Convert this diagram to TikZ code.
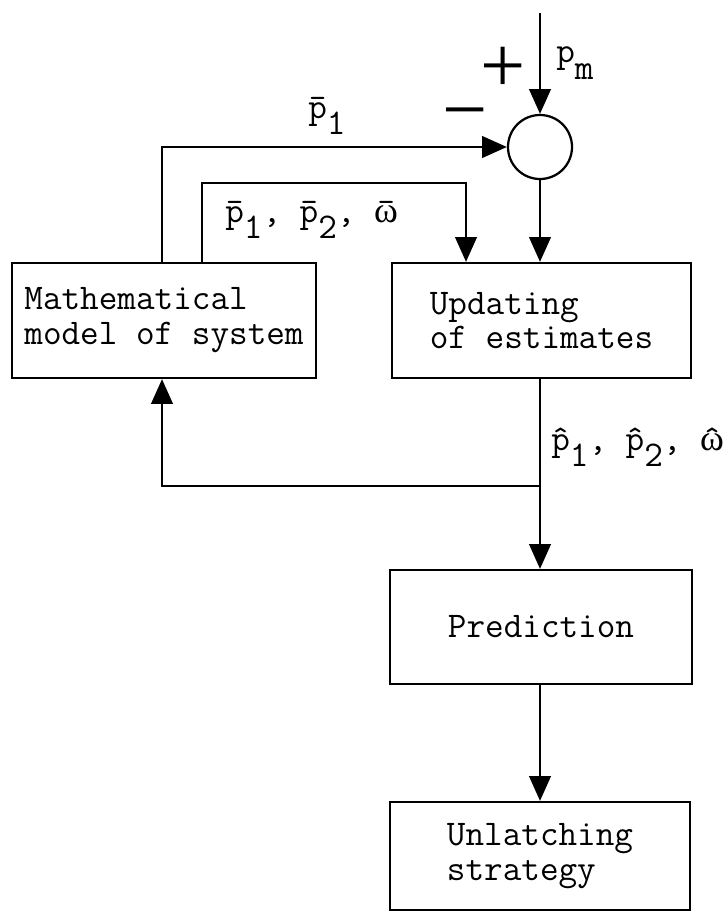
\documentclass[tikz,border=0pt]{standalone}
\usepackage{fontspec}
\newfontfamily\thinfont{Liberation Serif}
\usetikzlibrary{arrows.meta}
\newcommand{\blockfont}{\fontsize{25.7}{24.8}\selectfont\ttfamily}
\newcommand{\signfont}{\fontsize{57}{57}\selectfont\thinfont}
\newcommand{\lowsub}[1]{\raisebox{-0.42cm}{#1}}
\newcommand{\withbar}[1]{\ooalign{#1\cr\hidewidth¯\hidewidth\cr}}
\newcommand{\withhat}[1]{\ooalign{#1\cr\hidewidth ˆ\hidewidth\cr}}
\tikzset{
  block/.style={draw, line width=1.6pt, align=left, font=\blockfont, inner sep=0pt},
  wire/.style={line width=1.6pt},
  flow/.style={wire, -{Triangle[length=6.2mm,width=5.4mm]}},
  tag/.style={anchor=base west, font=\blockfont, inner sep=0pt},
  sign/.style={anchor=base, font=\signfont, inner sep=0pt}
}
\begin{document}
\begin{tikzpicture}[x=0.025cm, y=-0.025cm]
        \useasboundingbox (0,0) rectangle (728,913);
        \node[block, minimum width=7.6cm, minimum height=2.875cm] (model) at (164,320.5) {Mathematical\\model of system};
        \node[block, minimum width=7.475cm, minimum height=2.875cm] (update) at (541.5,320.5) {Updating\\of estimates};
        \node[block, minimum width=7.55cm, minimum height=2.85cm] (pred) at (541,627) {Prediction};
        \node[block, minimum width=7.5cm, minimum height=2.7cm] (unlatch) at (540,856) {Unlatching\\strategy};
        \node[draw, circle, line width=1.6pt, minimum size=1.6cm, inner sep=0pt] (sum) at (540,147) {};
        \coordinate (in) at (540,13);
        \coordinate (fb) at (540,486);
        \coordinate (c1) at (162,147);
        \coordinate (c2) at (202,183);
        \coordinate (c3) at (466,183);
        \draw[flow] (in) -- (sum);
        \draw[flow] (sum) -- (update.north -| sum);
        \draw[flow] (model.north -| c1) |- (sum);
        \draw[flow] (model.north -| c2) |- (c3) -- (update.north -| c3);
        \draw[wire] (update.south -| sum) -- (fb);
        \draw[flow] (fb) -- (pred.north -| sum);
        \draw[flow] (fb) -| (model.south -| c1);
        \draw[flow] (pred.south -| sum) -- (unlatch.north -| sum);
        \node[tag] (pm) at (556,63) {p\lowsub{m}};
        \node[sign] (plus) at (503,92) {+};
        \node[sign] (minus) at (465,136) {−};
        \node[tag] (pone) at (308,118) {\withbar{p}\lowsub{1}};
        \node[tag] (pbars) at (225,222) {\withbar{p}\lowsub{1}, \withbar{p}\lowsub{2}, \withbar{{\thinfont ω}}};
        \node[tag] (phats) at (551,450) {\withhat{p}\lowsub{1}, \withhat{p}\lowsub{2}, \withhat{{\thinfont ω}}};
\end{tikzpicture}
\end{document}
